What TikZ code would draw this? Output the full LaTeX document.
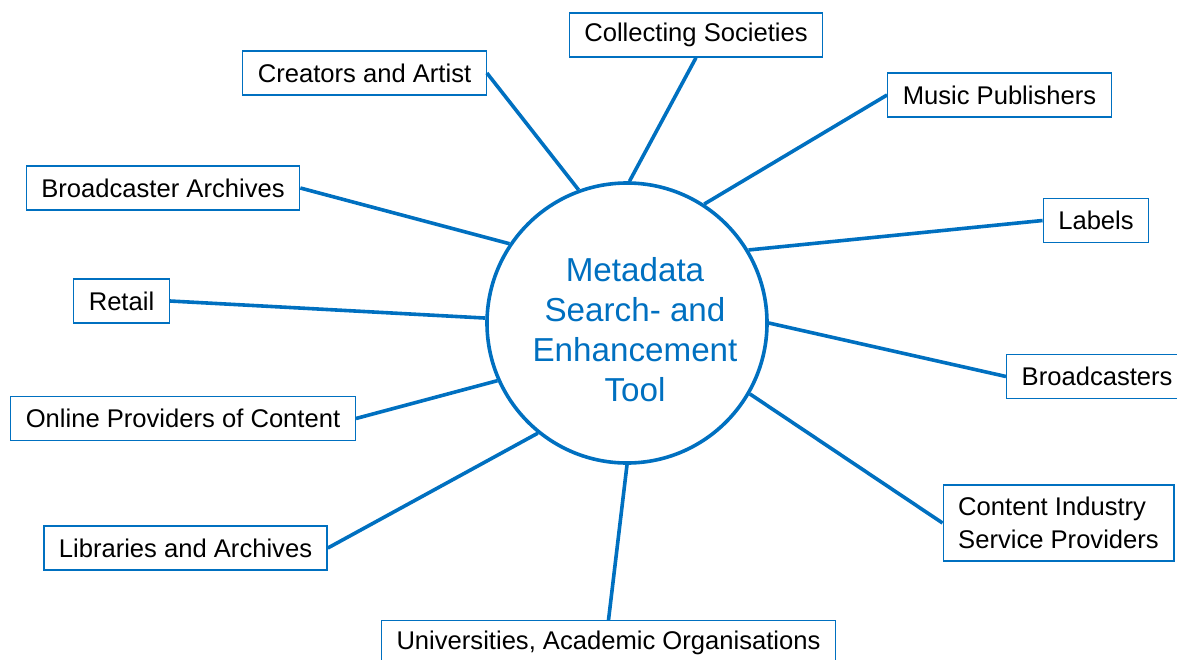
\documentclass[tikz,border=0pt]{standalone}
\usepackage{fontspec}
\setmainfont{Liberation Sans}
\definecolor{toolblue}{RGB}{0,112,192}
\tikzset{party/.style = {draw=toolblue, line width=0.7pt, fill=white, inner xsep=7.5pt,
    minimum height=22pt, align=left, font=\fontsize{12.8}{16.5}\selectfont}}
\tikzset{hub/.style = {draw=toolblue, line width=1.8pt, circle, minimum size=140pt, inner sep=0}}
\tikzset{hubtext/.style = {text=toolblue, align=center, inner sep=0, font=\fontsize{16.6}{20}\selectfont}}
\tikzset{spoke/.style = {draw=toolblue, line width=1.8pt}}

\begin{document}
\begin{tikzpicture}[x=0.5pt, y=-0.5pt]
    \useasboundingbox (0,0) rectangle (1177,659);
    % the tool in the middle
    \node [hub] (tool) at (627, 323) {};
    \node [hubtext] (toolname) at (635, 330) {Metadata\\Search- and\\Enhancement\\Tool};
    % the parties round it
    \node [party] (coll) at (696, 35) {Collecting Societies};
    \node [party] (crea) at (364.5, 73) {Creators and Artist};
    \node [party] (musp) at (999.5, 95) {Music Publishers};
    \node [party] (barc) at (163, 188) {Broadcaster Archives};
    \node [party] (labl) at (1096, 220.5) {Labels};
    \node [party] (retl) at (121.5, 301) {Retail};
    \node [party, anchor=west] (brdc) at (1006, 376.5) {Broadcasters};
    \node [party] (onln) at (183, 418.5) {Online Providers of Content};
    \node [party] (libr) at (185.5, 548) {Libraries and Archives};
    \node [party, inner ysep=6pt] (cisp) at (1058.5, 523) {Content Industry\\Service Providers};
    \node [party, anchor=north] (univ) at (608.5, 620) {Universities, Academic Organisations};
    % spokes from each party to the rim
    \foreach \n/\a/\t in {coll/south/89, crea/east/110.5, musp/west/57, barc/east/146,
        labl/west/31.5, retl/east/178.8, brdc/west/0.4, onln/east/204, libr/east/231.7,
        cisp/west/330.7, univ/north/270.4}{
      \draw [spoke] (\n.\a) -- (tool.\t);
    }
\end{tikzpicture}
\end{document}
